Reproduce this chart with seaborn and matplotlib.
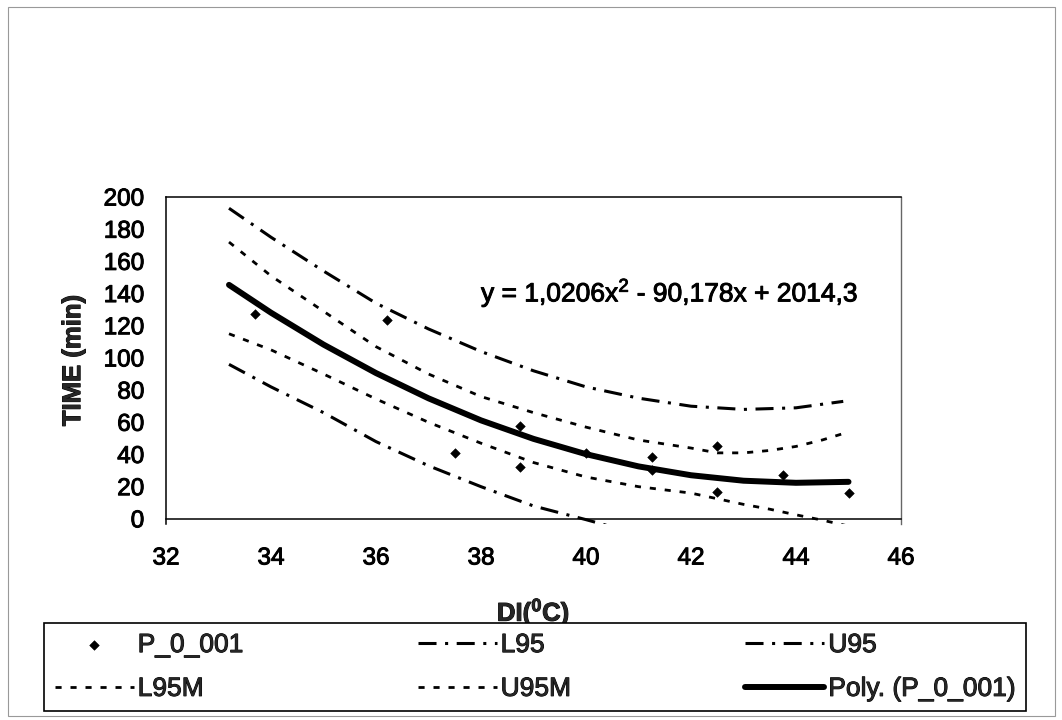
import matplotlib
matplotlib.use("Agg")
import matplotlib.pyplot as plt
import matplotlib.patheffects as pe
import seaborn as sns
from matplotlib.patches import Rectangle

# observed points (P_0_001)
obs_x = [33.7, 36.2, 37.5, 38.75, 38.75, 40.0, 41.25, 41.25, 42.5, 42.5, 43.75, 45.0]
obs_y = [127, 123.5, 41, 57.5, 32, 41, 38.5, 30.5, 45.5, 16.5, 27, 16]

# upper / lower 95% bands (dash-dot)
u95_x = [33.2, 34, 35, 36, 37, 38, 39, 40, 41, 42, 43, 44, 44.9]
u95_y = [193, 175, 154, 134, 118, 104, 92, 82, 75, 70, 68, 69, 73]
l95_x = [33.2, 34, 35, 36, 37, 38, 39, 40, 40.5]
l95_y = [96, 82, 66, 48, 33, 20, 8, -0.5, -5]

# upper / lower 95% mean bands (dotted)
u95m_x = [33.2, 34, 35, 36, 37, 38, 39, 40, 41, 42, 42.5, 43, 43.5, 44, 44.5, 45]
u95m_y = [172, 151, 129, 107, 90, 76, 66, 57, 49, 44, 41, 41, 42.5, 45, 49, 54]
l95m_x = [33.2, 34, 35, 36, 37, 38, 39, 40, 41, 42, 42.5, 43, 43.5, 44, 44.5, 45]
l95m_y = [115, 105, 90, 74.5, 60, 47, 35, 26, 20, 16, 12.5, 9, 6, 2.5, -0.8, -4.5]

# polynomial trendline
poly_x = [33.2, 34, 35, 36, 37, 38, 39, 40, 41, 42, 43, 44, 45]
poly_y = [145.4, 128.1, 108.3, 90.6, 74.9, 61.2, 49.7, 40.2, 32.6, 27.1, 23.7, 22.4, 23.0]

x_ticks = [32, 34, 36, 38, 40, 42, 44, 46]
y_ticks = [0, 20, 40, 60, 80, 100, 120, 140, 160, 180, 200]

sns.set_theme(style="white")
plt.rcParams['font.family'] = ['Liberation Sans', 'DejaVu Sans']
plt.rcParams['mathtext.fontset'] = 'custom'
plt.rcParams['mathtext.rm'] = 'Liberation Sans'
plt.rcParams['mathtext.bf'] = 'Liberation Sans:bold'
plt.rcParams['mathtext.it'] = 'Liberation Sans:italic'
plt.rcParams['mathtext.default'] = 'regular'

# scanned look: text a little heavier than plain regular
heavy = [pe.withStroke(linewidth=0.7, foreground='black')]

fig = plt.figure(figsize=(10.62, 7.2), dpi=100)
ax = fig.add_axes([166 / 1062, 1 - 524 / 720, 735 / 1062, 327 / 720])

dashdot = (0, (5.9, 2.8, 1.0, 2.8))
dotted = (0, (2.2, 3.2))

sns.scatterplot(x=obs_x, y=obs_y, ax=ax, marker='D', s=24, color='black',
                edgecolor='black', label='P_0_001', zorder=5)
sns.lineplot(x=l95_x, y=l95_y, ax=ax, color='black', lw=2.2, linestyle=dashdot,
             errorbar=None, label='L95')
sns.lineplot(x=u95_x, y=u95_y, ax=ax, color='black', lw=2.2, linestyle=dashdot,
             errorbar=None, label='U95')
sns.lineplot(x=l95m_x, y=l95m_y, ax=ax, color='black', lw=2.0, linestyle=dotted,
             errorbar=None, label='L95M')
sns.lineplot(x=u95m_x, y=u95m_y, ax=ax, color='black', lw=2.0, linestyle=dotted,
             errorbar=None, label='U95M')
sns.lineplot(x=poly_x, y=poly_y, ax=ax, color='black', lw=4.3,
             errorbar=None, label='Poly. (P_0_001)')

ax.set_xlim(32, 46)
ax.set_ylim(-3.2, 200)
ax.set_xticks(x_ticks)
ax.set_yticks(y_ticks)
ax.spines['bottom'].set_position(('data', 0))
for side in ['left', 'bottom', 'top']:
    ax.spines[side].set_color('black')
    ax.spines[side].set_linewidth(1.1)
ax.spines['right'].set_color('#666666')
ax.spines['right'].set_linewidth(1.0)

ax.tick_params(axis='both', direction='inout', length=7.2, width=1,
               colors='black', labelsize=17.5)
ax.tick_params(axis='x', pad=17)
ax.tick_params(axis='y', pad=12)
for lab in ax.get_xticklabels() + ax.get_yticklabels():
    lab.set_path_effects(heavy)

ax.set_xlabel(r'DI($^\mathbf{0}$C)', fontsize=18.5, fontweight='bold',
              path_effects=heavy)
ax.xaxis.set_label_coords(0.5, -0.22)
ax.set_ylabel('TIME (min)', fontsize=18.5, fontweight='bold', path_effects=heavy)
ax.yaxis.set_label_coords(-0.11, 0.5)

ax.text(38.0, 140.5, r'y = 1,0206x$^2$ - 90,178x + 2014,3', fontsize=19,
        ha='left', va='center', color='black', path_effects=heavy)

handles, labels = ax.get_legend_handles_labels()
lookup = dict(zip(labels, handles))
order = ['P_0_001', 'L95M', 'L95', 'U95M', 'U95', 'Poly. (P_0_001)']
leg = ax.legend([lookup[k] for k in order], order, ncol=3, mode='expand',
                loc='center', bbox_to_anchor=(44 / 1062, 1 - 713 / 720, 982 / 1062, 92 / 720),
                bbox_transform=fig.transFigure, fontsize=19, frameon=True, fancybox=False,
                edgecolor='black', framealpha=1, handlelength=3.0, handletextpad=0.15,
                labelspacing=0.75, borderpad=0.4, borderaxespad=0)
leg.get_frame().set_linewidth(1.2)
for t in leg.get_texts():
    t.set_path_effects(heavy)

fig.add_artist(Rectangle((8 / 1062, 1 - 716 / 720), 1047 / 1062, 709 / 720,
                         transform=fig.transFigure, fill=False,
                         edgecolor='#999999', lw=0.8))

fig.savefig('out.png', dpi=100)
